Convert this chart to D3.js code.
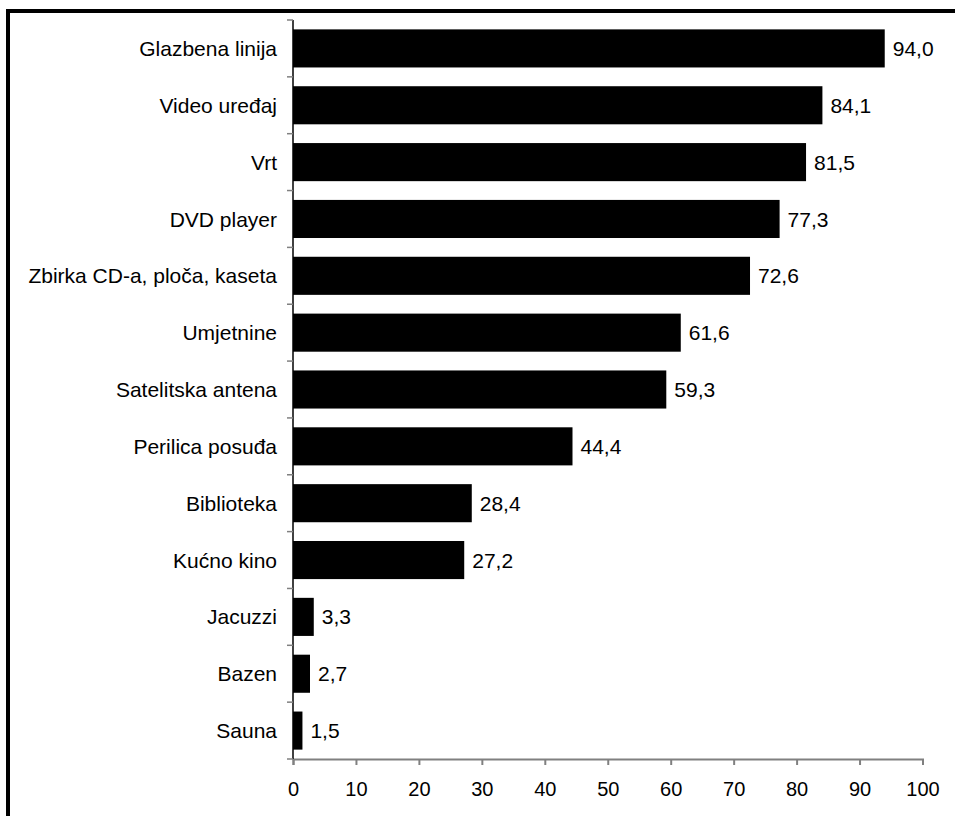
<!DOCTYPE html>
<html><head><meta charset="utf-8">
<script src="https://cdn.jsdelivr.net/npm/d3@7/dist/d3.min.js"></script>
<style>html,body{margin:0;padding:0;background:#fff;}svg{display:block;}</style>
</head><body>
<script>
const categories = ["Glazbena linija","Video uređaj","Vrt","DVD player","Zbirka CD-a, ploča, kaseta","Umjetnine","Satelitska antena","Perilica posuđa","Biblioteka","Kućno kino","Jacuzzi","Bazen","Sauna"];
const values = [94.0,84.1,81.5,77.3,72.6,61.6,59.3,44.4,28.4,27.2,3.3,2.7,1.5];
const xTicks = [0,10,20,30,40,50,60,70,80,90,100];

const W = 955, H = 816;
const svg = d3.select("body").append("svg").attr("width", W).attr("height", H);
const font = "'Liberation Sans', Arial, sans-serif";

// outer border (extends past right/bottom edges)
svg.append("rect").attr("x", 8).attr("y", 11).attr("width", 960).attr("height", 820)
  .attr("fill", "none").attr("stroke", "#000").attr("stroke-width", 4);

const x = d3.scaleLinear().domain([0, 100]).range([293, 922.5]);
const y = d3.scaleBand().domain(categories).range([20, 759]).paddingInner(0.33).paddingOuter(0.165);

const g = svg.append("g");

g.selectAll("rect.bar").data(values).join("rect").attr("class", "bar")
  .attr("x", x(0)).attr("y", (d, i) => y(categories[i]))
  .attr("width", d => x(d) - x(0)).attr("height", y.bandwidth())
  .attr("fill", "#000");

g.selectAll("text.val").data(values).join("text").attr("class", "val")
  .attr("x", d => x(d) + 8).attr("y", (d, i) => y(categories[i]) + y.bandwidth() / 2)
  .attr("dy", "0.36em").attr("font-family", font).attr("font-size", 21)
  .text(d => d.toFixed(1).replace(".", ","));

// x axis
const xa = svg.append("g").attr("transform", "translate(0,759)")
  .call(d3.axisBottom(x).tickValues(xTicks).tickSize(6).tickPadding(17).tickFormat(d3.format("d")));
xa.select(".domain").attr("stroke", "#808080").attr("stroke-width", 2);
xa.selectAll(".tick line").attr("stroke", "#808080").attr("stroke-width", 2);
xa.selectAll("text").attr("font-family", font).attr("font-size", 20).attr("fill", "#000");

// y axis
const bounds = d3.range(categories.length + 1).map(i => 20 + i * (739 / categories.length));
const ya = svg.append("g");
ya.append("line").attr("x1", x(0)).attr("x2", x(0)).attr("y1", 20).attr("y2", 759)
  .attr("stroke", "#000").attr("stroke-width", 1.5);
ya.selectAll("line.t").data(bounds).join("line").attr("class", "t")
  .attr("x1", x(0) - 6).attr("x2", x(0)).attr("y1", d => d).attr("y2", d => d)
  .attr("stroke", "#808080").attr("stroke-width", 1.5);
ya.selectAll("text").data(categories).join("text")
  .attr("x", 277).attr("y", d => y(d) + y.bandwidth() / 2).attr("dy", "0.36em")
  .attr("text-anchor", "end").attr("font-family", font).attr("font-size", 21)
  .text(d => d);
</script>
</body></html>
